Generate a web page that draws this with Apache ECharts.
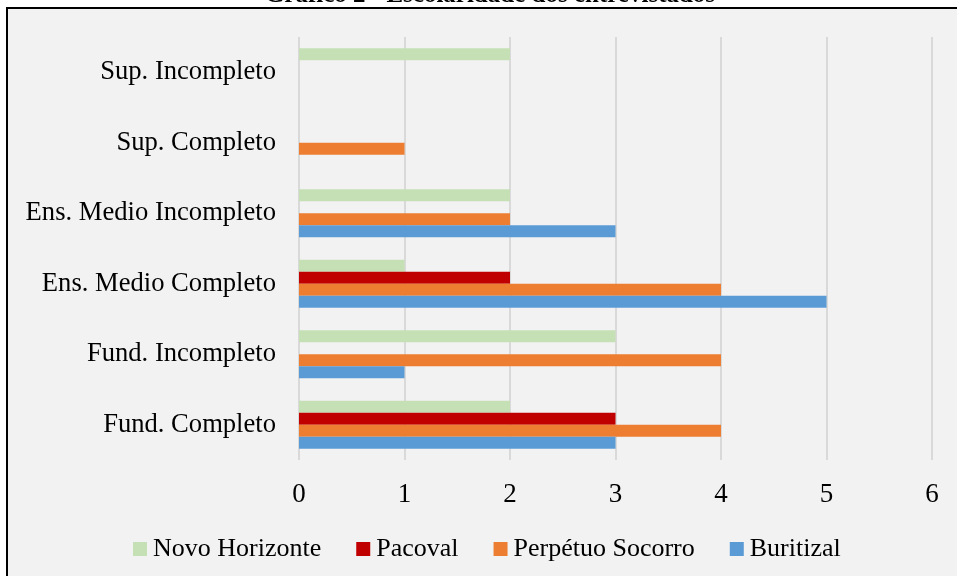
<!DOCTYPE html>
<html>
<head>
<meta charset="utf-8">
<script src="https://cdn.jsdelivr.net/npm/echarts@6/dist/echarts.min.js"></script>
<style>
  html, body { margin: 0; padding: 0; background: #ffffff; }
  #chart { width: 957px; height: 576px; }
</style>
</head>
<body>
<div id="chart"></div>
<script>
// Schooling levels, bottom to top on the category axis
var categories = ['Fund. Completo', 'Fund. Incompleto', 'Ens. Medio Completo', 'Ens. Medio Incompleto', 'Sup. Completo', 'Sup. Incompleto'];

// Number of interviewees per neighbourhood
var novoHorizonte    = [2, 3, 1, 2, 0, 2];
var pacoval          = [3, 0, 2, 0, 0, 0];
var perpetuoSocorro  = [4, 4, 4, 2, 1, 0];
var buritizal        = [3, 1, 5, 3, 0, 0];

var legendOrder = ['Novo Horizonte', 'Pacoval', 'Perpétuo Socorro', 'Buritizal'];
var titleText = 'Gráfico 2 - Escolaridade dos entrevistados';

var FONT = "'Liberation Serif', 'Times New Roman', serif";

var chart = echarts.init(document.getElementById('chart'), null, { renderer: 'canvas' });

function barSeries(name, data, color) {
  return {
    name: name,
    type: 'bar',
    data: data,
    barWidth: 12,
    barGap: '0%',
    itemStyle: { color: color },
    emphasis: { disabled: true }
  };
}

chart.setOption({
  backgroundColor: '#ffffff',
  animation: false,
  textStyle: { fontFamily: FONT },
  graphic: [
    {
      type: 'rect',
      z: -10,
      silent: true,
      shape: { x: 7, y: 8, width: 980, height: 600 },
      style: { fill: '#f2f2f2', stroke: '#000000', lineWidth: 2 }
    },
    {
      type: 'text',
      z: 10,
      silent: true,
      x: 490,
      y: -4,
      style: {
        text: titleText,
        font: 'bold 25px ' + FONT,
        fill: '#000000',
        textAlign: 'center',
        textVerticalAlign: 'middle'
      }
    }
  ],
  grid: { left: 299, right: 25, top: 37, bottom: 116, containLabel: false },
  legend: {
    data: legendOrder,
    left: 128,
    top: 531,
    itemWidth: 14,
    itemHeight: 14,
    itemGap: 35,
    icon: 'rect',
    textStyle: { fontFamily: FONT, fontSize: 26, color: '#000000', padding: [0, 0, 0, 1] }
  },
  xAxis: {
    type: 'value',
    min: 0,
    max: 6,
    interval: 1,
    axisLine: { show: false },
    axisTick: { show: false },
    splitLine: { show: true, lineStyle: { color: '#d9d9d9', width: 2 } },
    axisLabel: { fontFamily: FONT, fontSize: 27, color: '#000000', margin: 21 }
  },
  yAxis: {
    type: 'category',
    data: categories,
    axisLine: { show: false },
    axisTick: { show: false },
    splitLine: { show: false },
    axisLabel: { fontFamily: FONT, fontSize: 26.6, color: '#000000', margin: 23 }
  },
  // In a horizontal group the first series sits on top
  series: [
    barSeries('Novo Horizonte', novoHorizonte, '#c5e0b4'),
    barSeries('Pacoval', pacoval, '#c00000'),
    barSeries('Perpétuo Socorro', perpetuoSocorro, '#ed7d31'),
    barSeries('Buritizal', buritizal, '#5b9bd5')
  ]
});
</script>
</body>
</html>
